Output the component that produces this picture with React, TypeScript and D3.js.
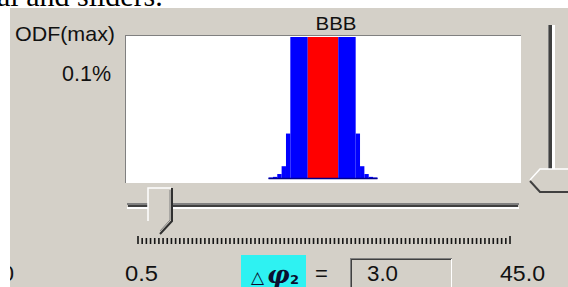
import * as d3 from "d3";

// ODF profile across phi (deg), bins of the histogram
const binLo = [32.5, 33.5, 34.5, 35.5, 36.5, 37.5, 41.5, 48.5, 52.5, 53.5, 54.5, 55.5, 56.5];
const binHi = [33.5, 34.5, 35.5, 36.5, 37.5, 41.5, 48.5, 52.5, 53.5, 54.5, 55.5, 56.5, 57.5];
const binOdf = [0.0007, 0.0015, 0.0035, 0.009, 0.032, 0.4, 0.6, 0.4, 0.032, 0.009, 0.0035, 0.0015, 0.0007];
const binSelected = [false, false, false, false, false, false, true, false, false, false, false, false, false];

const odfMaxLabel = "0.1%";
const odfMax = 0.1;
const seriesName = "BBB";

// slider
const sliderMin = 0.5;
const sliderMax = 45.0;
const sliderStep = 0.5;
const deltaPhi2 = 3.0;

const GRAY = "#d4d0c8";
const font = "'Liberation Sans', Arial, sans-serif";

export default function App() {
  const plot = { left: 126, right: 520, top: 36, bottom: 182, base: 179 };

  const x = d3.scaleLinear().domain([0, 90]).range([plot.left + 1, plot.right - 1]);
  const y = d3.scaleLinear().domain([0, odfMax]).range([plot.base, plot.top + 1]).clamp(true);

  const sx = d3.scaleLinear().domain([sliderMin, sliderMax]).range([138, 510]);
  const sliderTicks = d3.range(sliderMin, sliderMax + 0.001, sliderStep);
  const thumbX = Math.round(sx(deltaPhi2)) + 1;

  const bins = binLo.map((lo, i) => ({ lo, hi: binHi[i], v: binOdf[i], sel: binSelected[i] }));

  return (
    <div style={{ position: "absolute", left: 0, top: 0 }}>
      <svg width={568} height={287} style={{ display: "block" }}>
        <rect width={568} height={287} fill="#fff" />
        <text x={-3} y={6} fontFamily="'Liberation Serif', 'Times New Roman', serif" fontSize={30} fill="#000">
          al and sliders.
        </text>
        <rect x={10} y={8} width={558} height={279} fill={GRAY} />

        {/* plot frame */}
        <rect x={plot.left - 1} y={plot.top - 1} width={plot.right - plot.left + 2} height={plot.bottom - plot.top + 2} fill="#fff" />
        <line x1={plot.left - 1} x2={plot.right + 1} y1={plot.top - 0.5} y2={plot.top - 0.5} stroke="#808080" />
        <line x1={plot.left - 0.5} x2={plot.left - 0.5} y1={plot.top - 1} y2={plot.bottom + 1} stroke="#808080" />

        {/* bars */}
        {bins.map((b, i) => {
          const top = Math.min(y(b.v), plot.base - 1.5);
          return (
            <rect
              key={i}
              x={x(b.lo)}
              y={top}
              width={x(b.hi) - x(b.lo)}
              height={plot.base - top}
              fill={b.sel ? "#ff0000" : "#0000ff"}
            />
          );
        })}
        <line x1={x(binLo[0])} x2={x(binHi[binHi.length - 1])} y1={plot.base - 0.5} y2={plot.base - 0.5} stroke="#00008c" strokeWidth={1.5} />

        <text x={336} y={30} textAnchor="middle" fontFamily={font} fontSize={18} fill="#111" textLength={41} lengthAdjust="spacingAndGlyphs">
          {seriesName}
        </text>
        <text x={115} y={41} textAnchor="end" fontFamily={font} fontSize={21} fill="#111" textLength={100} lengthAdjust="spacingAndGlyphs">
          ODF(max)
        </text>
        <text x={111} y={81} textAnchor="end" fontFamily={font} fontSize={22} fill="#111" textLength={49} lengthAdjust="spacingAndGlyphs">
          {odfMaxLabel}
        </text>

        {/* vertical slider */}
        <rect x={549} y={25} width={3} height={146} fill="#404040" />
        <rect x={552} y={25} width={3} height={146} fill="#fff" />
        <line x1={548.5} x2={548.5} y1={25} y2={171} stroke="#808080" />
        <polygon points="568,169 540,169 530,180 540,192 568,192" fill={GRAY} />
        <polyline points="568,169 540,169 530,180" fill="none" stroke="#fff" strokeWidth={1.5} />
        <polyline points="530,181 540,192 568,192" fill="none" stroke="#404040" strokeWidth={2} />

        {/* horizontal slider track */}
        <rect x={127} y={203} width={392} height={2} fill="#808080" />
        <rect x={128} y={205} width={390} height={2} fill="#404040" />
        <rect x={127} y={207} width={392} height={2} fill="#fff" />

        {/* thumb */}
        <polygon points={`${thumbX - 12},188 ${thumbX + 12},188 ${thumbX + 12},221 ${thumbX},234 ${thumbX - 12},221`} fill={GRAY} />
        <polyline points={`${thumbX - 12},221 ${thumbX - 12},188 ${thumbX + 11},188`} fill="none" stroke="#fff" strokeWidth={1.5} />
        <polyline points={`${thumbX + 12},188 ${thumbX + 12},221 ${thumbX},234`} fill="none" stroke="#303030" strokeWidth={2} />
        <polyline points={`${thumbX + 10},190 ${thumbX + 10},220 ${thumbX},231`} fill="none" stroke="#808080" strokeWidth={1} />

        {/* slider ticks */}
        {sliderTicks.map((t, i) => {
          const end = i === 0 || i === sliderTicks.length - 1;
          return (
            <line
              key={i}
              x1={sx(t)}
              x2={sx(t)}
              y1={end ? 236 : 238}
              y2={244}
              stroke="#151515"
              strokeWidth={1.6}
            />
          );
        })}

        {/* bottom labels */}
        <text x={14} y={281} textAnchor="end" fontFamily={font} fontSize={22} fill="#111">0</text>
        <rect x={0} y={8} width={10} height={279} fill="#fff" />
        <text x={125} y={281} fontFamily={font} fontSize={22} fill="#111" textLength={33} lengthAdjust="spacingAndGlyphs">
          {sliderMin.toFixed(1)}
        </text>
        <text x={500} y={281} fontFamily={font} fontSize={22} fill="#111" textLength={45} lengthAdjust="spacingAndGlyphs">
          {sliderMax.toFixed(1)}
        </text>

        <rect x={241} y={255} width={65} height={32} fill="#2ef2f2" />
        <text y={283} fill="#0a1030">
          <tspan x={251} fontFamily="'DejaVu Sans', sans-serif" fontSize={17}>△</tspan>
          <tspan x={267} fontFamily="'DejaVu Serif', serif" fontSize={25} fontWeight="bold" fontStyle="italic">φ</tspan>
          <tspan x={290} dy={1} fontFamily="'DejaVu Sans', sans-serif" fontSize={13} fontWeight="bold">2</tspan>
        </text>
        <text x={315} y={281} fontFamily={font} fontSize={22} fill="#111">=</text>

        <rect x={350} y={258} width={102} height={29} fill={GRAY} />
        <line x1={350} x2={452} y1={258.5} y2={258.5} stroke="#808080" />
        <line x1={350.5} x2={350.5} y1={258} y2={287} stroke="#808080" />
        <line x1={351} x2={451} y1={259.5} y2={259.5} stroke="#404040" />
        <line x1={351.5} x2={351.5} y1={259} y2={287} stroke="#404040" />
        <line x1={451.5} x2={451.5} y1={259} y2={287} stroke="#fff" />
        <text x={367} y={281} fontFamily={font} fontSize={22} fill="#111" textLength={31} lengthAdjust="spacingAndGlyphs">
          {deltaPhi2.toFixed(1)}
        </text>
      </svg>
    </div>
  );
}
